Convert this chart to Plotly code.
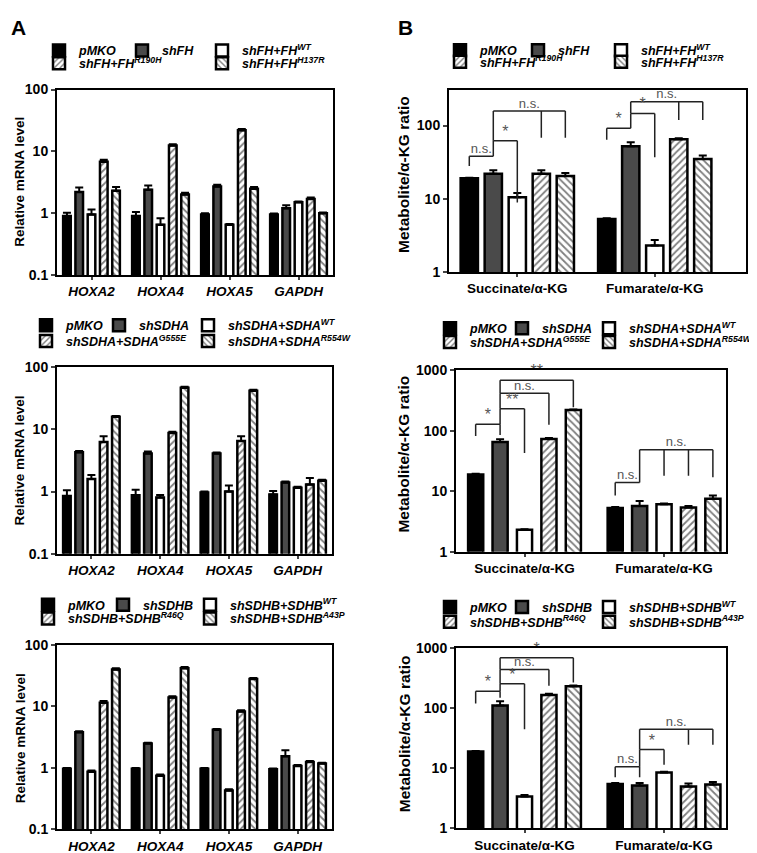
import math
import plotly.graph_objects as go

W, H = 757, 853
FONT = "Liberation Sans, Arial, sans-serif"

# ---------------- data ----------------
genes = ["HOXA2", "HOXA4", "HOXA5", "GAPDH"]
metabolites = ["Succinate/α-KG", "Fumarate/α-KG"]

fh_names = ["pMKO", "shFH", "shFH+FH<sup>WT</sup>", "shFH+FH<sup>R190H</sup>", "shFH+FH<sup>H137R</sup>"]
sdha_names = ["pMKO", "shSDHA", "shSDHA+SDHA<sup>WT</sup>", "shSDHA+SDHA<sup>G555E</sup>", "shSDHA+SDHA<sup>R554W</sup>"]
sdhb_names = ["pMKO", "shSDHB", "shSDHB+SDHB<sup>WT</sup>", "shSDHB+SDHB<sup>R46Q</sup>", "shSDHB+SDHB<sup>A43P</sup>"]

# relative mRNA level (rows = series, cols = genes)
fh_mrna = [[0.9, 0.9, 0.95, 0.95], [2.2, 2.4, 2.7, 1.2], [0.95, 0.65, 0.65, 1.5],
           [6.8, 12.5, 22, 1.7], [2.3, 2.0, 2.5, 1.0]]
fh_mrna_err = [[0.12, 0.15, 0.05, 0.04], [0.4, 0.4, 0.2, 0.15], [0.2, 0.18, 0.02, 0.05],
               [0.5, 0.6, 1.0, 0.1], [0.35, 0.15, 0.15, 0.03]]
sdha_mrna = [[0.85, 0.87, 0.97, 0.9], [4.3, 4.1, 4.1, 1.4], [1.6, 0.8, 1.0, 1.15],
             [6.3, 8.8, 6.5, 1.3], [16, 47, 42, 1.5]]
sdha_mrna_err = [[0.2, 0.2, 0.03, 0.12], [0.2, 0.3, 0.15, 0.05], [0.25, 0.08, 0.25, 0.05],
                 [1.5, 0.4, 1.3, 0.35], [0.5, 1.5, 1.5, 0.05]]
sdhb_mrna = [[0.97, 0.97, 0.97, 0.95], [3.8, 2.5, 4.2, 1.55], [0.87, 0.75, 0.43, 1.08],
             [11.5, 14, 8.3, 1.25], [40, 42, 28, 1.18]]
sdhb_mrna_err = [[0.03, 0.03, 0.03, 0.03], [0.15, 0.08, 0.1, 0.4], [0.04, 0.03, 0.02, 0.04],
                 [0.8, 0.7, 0.4, 0.05], [2, 2, 1, 0.04]]

# metabolite / alpha-KG ratio (rows = series, cols = metabolites)
fh_ratio = [[19, 5.3], [22, 52], [10.5, 2.3], [22, 65], [20.5, 35]]
fh_ratio_err = [[0.4, 0.15], [2.5, 7], [1.5, 0.45], [2.5, 2], [2, 4]]
sdha_ratio = [[19, 5.3], [65, 5.7], [2.3, 6.1], [73, 5.4], [220, 7.5]]
sdha_ratio_err = [[0.4, 0.2], [7, 1.2], [0.05, 0.15], [3, 0.3], [5, 1.0]]
sdhb_ratio = [[19, 5.5], [110, 5.2], [3.4, 8.5], [165, 5.0], [230, 5.4]]
sdhb_ratio_err = [[0.4, 0.2], [20, 0.5], [0.2, 0.3], [8, 0.6], [8, 0.5]]

# significance brackets: (group, bars, top, bottoms, label)
fh_sig = [(0, [0, 1], 38, [28, 38], "n.s."), (0, [1, 2], 62, [38, 8.9], "*"),
          (0, [1, 3, 4], 158, [62, 68, 68], "n.s."),
          (1, [0, 1], 92, [64, 92], "*"), (1, [1, 2], 146, [92, 37], "*"),
          (1, [1, 3, 4], 211, [146, 119, 119], "n.s.")]
sdha_sig = [(0, [0, 1], 128, [82, 85], "*"), (0, [1, 2], 230, [128, 43], "**"),
            (0, [1, 3], 418, [230, 126], "n.s."), (0, [1, 4], 686, [418, 245], "**"),
            (1, [0, 1], 14, [8.5, 14], "n.s."), (1, [1, 2, 3, 4], 48.5, [14, 18, 18, 17], "n.s.")]
sdhb_sig = [(0, [0, 1], 191, [119, 148], "*"), (0, [1, 2], 254, [191, 44.7], "*"),
            (0, [1, 3], 439, [254, 236], "n.s."), (0, [1, 4], 687, [439, 267], "*"),
            (1, [0, 1], 10.6, [7.1, 7.1], "n.s."), (1, [1, 2], 20.5, [10.6, 11.4], "*"),
            (1, [1, 3, 4], 44.7, [20.5, 24.6, 24.6], "n.s.")]

# ---------------- styling / geometry ----------------
fills = ["black", "#4a4a4a", "white", "white", "white"]
patterns = ["", "", "", "/", "\\"]

panels = [
    dict(cats=genes, names=fh_names, vals=fh_mrna, errs=fh_mrna_err, sig=None,
         px=(49, 325), py=(75, 264), xr=(-0.5, 3.5), yr=(-1, 2), slot=0.178, bw=0.62,
         tick=[0.1, 1, 10, 100], italic=True, title="Relative mRNA level", tpos=(12, 169),
         leg_x=[79, 162, 242, 79, 242], leg_y=[48.5, 48.5, 48.5, 61.5, 61.5]),
    dict(cats=metabolites, names=fh_names, vals=fh_ratio, errs=fh_ratio_err, sig=fh_sig,
         px=(441, 738), py=(75, 261), xr=(-0.497, 1.664), yr=(0, 2.49), slot=0.1747, bw=0.72,
         tick=[1, 10, 100], italic=False, title="Metabolite/α-KG ratio", tpos=(396, 162),
         leg_x=[480, 558, 641, 480, 641], leg_y=[48.3, 48.3, 48.3, 60, 60]),
    dict(cats=genes, names=sdha_names, vals=sdha_mrna, errs=sdha_mrna_err, sig=None,
         px=(49, 324), py=(358, 548), xr=(-0.5, 3.5), yr=(-1, 2), slot=0.178, bw=0.62,
         tick=[0.1, 1, 10, 100], italic=True, title="Relative mRNA level", tpos=(12, 453),
         leg_x=[66, 139, 228, 66, 228], leg_y=[328.5, 328.5, 328.5, 344.5, 344.5]),
    dict(cats=metabolites, names=sdha_names, vals=sdha_ratio, errs=sdha_ratio_err, sig=sdha_sig,
         px=(448, 718), py=(361, 546), xr=(-0.491, 1.444), yr=(0, 3), slot=0.175, bw=0.62,
         tick=[1, 10, 100, 1000], italic=False, title="Metabolite/α-KG ratio", tpos=(396, 447),
         leg_x=[470, 542, 629, 470, 629], leg_y=[331.5, 331.5, 331.5, 345.5, 345.5]),
    dict(cats=genes, names=sdhb_names, vals=sdhb_mrna, errs=sdhb_mrna_err, sig=None,
         px=(49, 324), py=(641, 829), xr=(-0.5, 3.5), yr=(-1, 2), slot=0.178, bw=0.62,
         tick=[0.1, 1, 10, 100], italic=True, title="Relative mRNA level", tpos=(12, 736),
         leg_x=[68, 143, 230, 68, 230], leg_y=[613.5, 613.5, 613.5, 627.5, 627.5]),
    dict(cats=metabolites, names=sdhb_names, vals=sdhb_ratio, errs=sdhb_ratio_err, sig=sdhb_sig,
         px=(448, 718), py=(644, 828), xr=(-0.491, 1.444), yr=(0, 3), slot=0.175, bw=0.62,
         tick=[1, 10, 100, 1000], italic=False, title="Metabolite/α-KG ratio", tpos=(396, 732),
         leg_x=[470, 542, 629, 470, 629], leg_y=[615.7, 615.7, 615.7, 630.7, 630.7]),
]

LEG_OFF = 48   # legend box left -> text start
LEG_DY = -13   # vertical correction of legend box centre

fig = go.Figure()
layout = dict(width=W, height=H, margin=dict(l=0, r=0, t=0, b=0),
              plot_bgcolor="white", paper_bgcolor="white", barmode="overlay",
              font=dict(family=FONT, color="black"), annotations=[])

def tfmt(v):
    return str(v) if v < 1 else str(int(v))

for p, pan in enumerate(panels):
    k = p + 1
    xa = "x" if k == 1 else f"x{k}"
    ya = "y" if k == 1 else f"y{k}"
    xkey = "xaxis" if k == 1 else f"xaxis{k}"
    ykey = "yaxis" if k == 1 else f"yaxis{k}"
    ncat = len(pan["cats"])
    xs = list(range(ncat))
    slot = pan["slot"]
    bw = slot * pan["bw"]
    for j in range(5):
        n = p * 5 + j + 1
        lg = "legend" if n == 1 else f"legend{n}"
        marker = dict(color=fills[j], line=dict(color="black", width=2.5))
        if patterns[j]:
            marker["pattern"] = dict(shape=patterns[j], fgcolor="black", bgcolor="white",
                                     size=5, solidity=0.35)
        fig.add_trace(go.Bar(
            x=xs, y=pan["vals"][j], name=pan["names"][j], xaxis=xa, yaxis=ya,
            width=bw, offset=(j - 2) * slot - bw / 2, marker=marker,
            error_y=dict(type="data", array=pan["errs"][j], arrayminus=[0] * ncat,
                         symmetric=False, color="black", thickness=2, width=4),
            legend=lg, showlegend=True))
        layout[lg] = dict(x=(pan["leg_x"][j] - LEG_OFF) / W,
                          y=1 - (pan["leg_y"][j] + LEG_DY) / H,
                          xanchor="left", yanchor="middle", bgcolor="rgba(0,0,0,0)",
                          borderwidth=0, itemwidth=30,
                          font=dict(family=FONT, size=12.5, weight="bold", style="italic"))
    # significance brackets
    if pan["sig"]:
        lx, ly, tx, ty, tt, ts = [], [], [], [], [], []
        for (g, bars, top, bots, lab) in pan["sig"]:
            bx = [g + (b - 2) * slot for b in bars]
            lx += [min(bx), max(bx), None]
            ly += [top, top, None]
            for xb, yb in zip(bx, bots):
                if yb != top:
                    lx += [xb, xb, None]
                    ly += [top, yb, None]
            tx.append((min(bx) + max(bx)) / 2)
            ty.append(top)
            tt.append(lab)
            ts.append(13 if lab == "n.s." else 16)
        fig.add_trace(go.Scatter(x=lx, y=ly, mode="lines", xaxis=xa, yaxis=ya,
                                 line=dict(color="#222", width=1.5), showlegend=False,
                                 hoverinfo="skip", cliponaxis=False))
        fig.add_trace(go.Scatter(x=tx, y=ty, mode="text", text=tt, textposition="top center",
                                 xaxis=xa, yaxis=ya, showlegend=False, hoverinfo="skip",
                                 cliponaxis=False,
                                 textfont=dict(family=FONT, size=ts, color="#555")))
    layout[xkey] = dict(domain=[pan["px"][0] / W, pan["px"][1] / W], range=list(pan["xr"]),
                        anchor=ya, tickvals=xs, ticktext=pan["cats"], showline=True,
                        mirror=True, linecolor="black", linewidth=2, ticks="outside",
                        ticklen=3, tickwidth=1.5, showgrid=False, zeroline=False,
                        tickfont=dict(family=FONT, size=13.5, weight="bold",
                                      style="italic" if pan["italic"] else "normal"))
    layout[ykey] = dict(domain=[1 - pan["py"][1] / H, 1 - pan["py"][0] / H], type="log",
                        range=list(pan["yr"]), anchor=xa, tickvals=pan["tick"],
                        ticktext=[tfmt(v) for v in pan["tick"]], showline=True, mirror=True,
                        linecolor="black", linewidth=2, ticks="outside", ticklen=4,
                        tickwidth=1.5, showgrid=False, zeroline=False,
                        tickfont=dict(family=FONT, size=14, weight="bold"))
    layout["annotations"].append(dict(
        x=pan["tpos"][0] / W, y=1 - pan["tpos"][1] / H, xref="paper", yref="paper",
        text=pan["title"], textangle=-90, showarrow=False, xanchor="center", yanchor="middle",
        font=dict(family=FONT, size=13.5 if pan["italic"] else 15.5, weight="bold")))

for lab, x in [("A", 10), ("B", 398)]:
    layout["annotations"].append(dict(
        x=x / W, y=1 - 12 / H, xref="paper", yref="paper", text=lab, showarrow=False,
        xanchor="center", yanchor="middle", font=dict(family=FONT, size=21, weight="bold")))

fig.update_layout(**layout)
fig.write_html("out.html")
